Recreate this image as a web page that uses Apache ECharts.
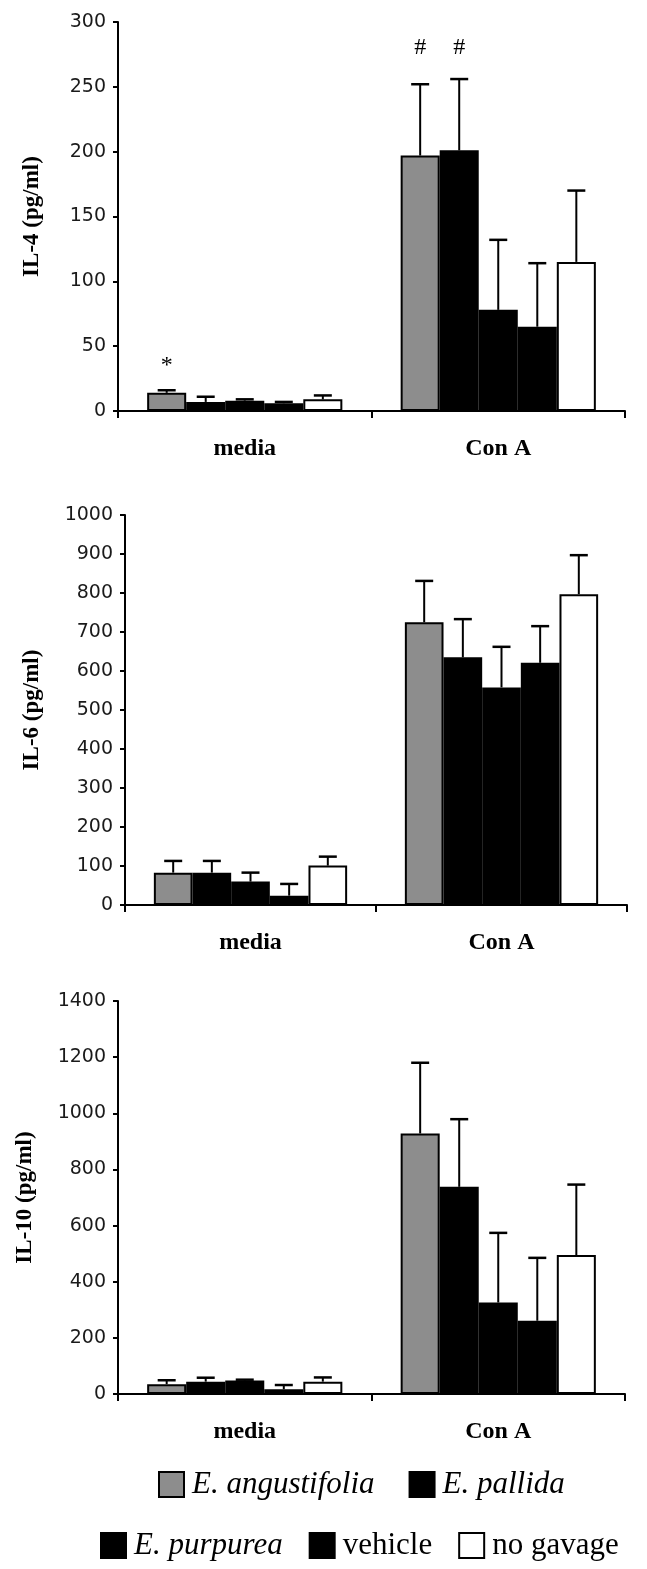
<!DOCTYPE html>
<html>
<head>
<meta charset="utf-8">
<script src="https://cdn.jsdelivr.net/npm/echarts@6/dist/echarts.min.js"></script>
<style>
html,body{margin:0;padding:0;background:#fff;}
#c{width:647px;height:1569px;}
</style>
</head>
<body>
<div id="c"></div>
<script>
const categories = ['media', 'Con A'];
const seriesNames = ['E. angustifolia', 'E. pallida', 'E. purpurea', 'vehicle', 'no gavage'];

const il4Media = [14, 7, 8, 6, 9];
const il4MediaErr = [2, 4, 1, 1, 3];
const il4ConA = [197, 201, 78, 65, 115];
const il4ConAErr = [55, 55, 54, 49, 55];

const il6Media = [83, 83, 60, 24, 101];
const il6MediaErr = [30, 30, 23, 30, 23];
const il6ConA = [725, 635, 558, 621, 797];
const il6ConAErr = [106, 98, 104, 94, 100];

const il10Media = [35, 44, 48, 17, 44];
const il10MediaErr = [14, 14, 3, 15, 15];
const il10ConA = [928, 738, 326, 261, 495];
const il10ConAErr = [252, 241, 248, 224, 251];

const yTitles = ['IL-4 (pg/ml)', 'IL-6 (pg/ml)', 'IL-10 (pg/ml)'];
const yMax = [300, 1000, 1400];
const yStep = [50, 100, 200];

// significance marks: panel, series, category, height (data units), symbol
const sigMarks = [
  [0, 0, 0, 35, '*'],
  [0, 0, 1, 280, '#'],
  [0, 1, 1, 280, '#']
];

const panels = [
  {media: il4Media, mediaErr: il4MediaErr, conA: il4ConA, conAErr: il4ConAErr},
  {media: il6Media, mediaErr: il6MediaErr, conA: il6ConA, conAErr: il6ConAErr},
  {media: il10Media, mediaErr: il10MediaErr, conA: il10ConA, conAErr: il10ConAErr}
];

const fills = ['#8d8d8d', '#000', '#000', '#000', '#fff'];
const GAP = 0.23;
const serif = '"Liberation Serif", "Times New Roman", serif';

const grids = [
  {left: 118, right: 22, top: 22, height: 389},
  {left: 125, right: 20, top: 515, height: 390},
  {left: 118, right: 22, top: 1001, height: 393}
];
const nameGaps = [74, 81, 81];

const xAxes = [], yAxes = [], series = [];
panels.forEach((p, g) => {
  xAxes.push({
    type: 'category', gridIndex: g, data: categories,
    axisLine: {lineStyle: {color: '#000', width: 2}},
    axisTick: {show: true, length: 7, lineStyle: {color: '#000', width: 2}},
    axisLabel: {margin: 26, fontFamily: serif, fontWeight: 'bold', fontSize: 24, color: '#000'}
  });
  yAxes.push({
    type: 'value', gridIndex: g, min: 0, max: yMax[g], interval: yStep[g],
    name: yTitles[g], nameLocation: 'middle', nameGap: nameGaps[g],
    nameTextStyle: {fontFamily: serif, fontWeight: 'bold', fontSize: 23, color: '#000'},
    splitLine: {show: false},
    axisLine: {show: true, lineStyle: {color: '#000', width: 2}},
    axisTick: {show: true, length: 5, lineStyle: {color: '#000', width: 2}},
    axisLabel: {margin: 12, fontFamily: '"DejaVu Sans", sans-serif', fontSize: 19, color: '#1a1a1a',
      formatter: function (v) { return String(v); }}
  });
  seriesNames.forEach((nm, s) => {
    series.push({
      type: 'bar', name: nm, xAxisIndex: g, yAxisIndex: g,
      barGap: '0%', barCategoryGap: (GAP * 100) + '%',
      data: [p.media[s], p.conA[s]],
      itemStyle: {color: fills[s], borderColor: '#000', borderWidth: 2},
      emphasis: {disabled: true},
      z: 2
    });
  });
  const errData = [];
  seriesNames.forEach((nm, s) => {
    errData.push([0, s, p.media[s], p.mediaErr[s]]);
    errData.push([1, s, p.conA[s], p.conAErr[s]]);
  });
  series.push({
    type: 'custom', name: 'err' + g, xAxisIndex: g, yAxisIndex: g,
    data: errData, encode: {x: 0, y: 2}, z: 5, silent: true,
    renderItem: function (params, api) {
      const cat = api.value(0), s = api.value(1), v = api.value(2), e = api.value(3);
      const base = api.coord([cat, v]);
      const top = api.coord([cat, v + e]);
      const band = api.size([1, 0])[0];
      const bw = band * (1 - GAP) / 5;
      const x = base[0] + (s - 2) * bw;
      const st = {stroke: '#000', lineWidth: 2};
      return {type: 'group', children: [
        {type: 'line', shape: {x1: x, y1: base[1], x2: x, y2: top[1]}, style: st},
        {type: 'line', shape: {x1: x - 9, y1: top[1], x2: x + 9, y2: top[1]}, style: {stroke: '#000', lineWidth: 2.5}}
      ]};
    }
  });
  const marks = sigMarks.filter(m => m[0] === g);
  if (marks.length) {
    series.push({
      type: 'custom', name: 'sig' + g, xAxisIndex: g, yAxisIndex: g,
      data: marks.map(m => [m[2], m[1], m[3]]), encode: {x: 0, y: 2}, z: 6, silent: true,
      renderItem: function (params, api) {
        const cat = api.value(0), s = api.value(1), y = api.value(2);
        const c = api.coord([cat, y]);
        const band = api.size([1, 0])[0];
        const bw = band * (1 - GAP) / 5;
        const x = c[0] + (s - 2) * bw;
        return {type: 'text', style: {x: x, y: c[1], text: marks[params.dataIndex][4],
          textAlign: 'center', textVerticalAlign: 'middle',
          font: '24px "Liberation Serif", serif', fill: '#000'}};
      }
    });
  }
});

const legendText = {
  fontSize: 31, fontFamily: serif, color: '#000', padding: [0, 0, 0, 3],
  rich: {i: {fontSize: 31, fontFamily: serif, fontStyle: 'italic', color: '#000'},
         n: {fontSize: 31, fontFamily: serif, color: '#000'}}
};
const legendFmt = function (name) {
  return name.indexOf('E.') === 0 ? '{i|' + name + '}' : '{n|' + name + '}';
};

const option = {
  animation: false,
  backgroundColor: '#fff',
  grid: grids,
  xAxis: xAxes,
  yAxis: yAxes,
  legend: [
    {data: seriesNames.slice(0, 2), left: 158, top: 1469, itemWidth: 25, itemHeight: 25,
     itemGap: 34, icon: 'rect', textStyle: legendText, formatter: legendFmt,
     selectedMode: false, padding: 0},
    {data: seriesNames.slice(2), left: 100, top: 1530, itemWidth: 25, itemHeight: 25,
     itemGap: 26, icon: 'rect', textStyle: legendText, formatter: legendFmt,
     selectedMode: false, padding: 0}
  ],
  series: series
};

const chart = echarts.init(document.getElementById('c'), null, {renderer: 'canvas'});
chart.setOption(option);
</script>
</body>
</html>
